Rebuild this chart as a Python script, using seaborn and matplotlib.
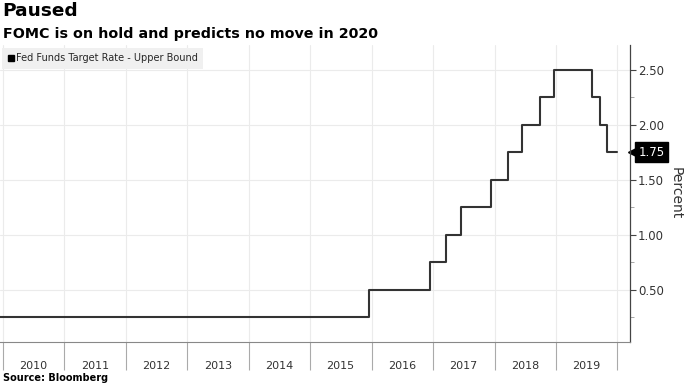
import matplotlib
matplotlib.use('Agg')
import pandas as pd
import matplotlib.pyplot as plt
import matplotlib.dates as mdates
import matplotlib.transforms as mtransforms
import seaborn as sns
from matplotlib.lines import Line2D

# FOMC target rate changes (upper bound), percent
change_dates = ['2008-12-16', '2015-12-17', '2016-12-15', '2017-03-16', '2017-06-15',
                '2017-12-14', '2018-03-22', '2018-06-14', '2018-09-27', '2018-12-20',
                '2019-08-01', '2019-09-19', '2019-10-31', '2019-12-31']
upper_bound = [0.25, 0.50, 0.75, 1.00, 1.25,
               1.50, 1.75, 2.00, 2.25, 2.50,
               2.25, 2.00, 1.75, 1.75]
y_ticks = [0.50, 1.00, 1.50, 2.00, 2.50]
y_minor = [0.25, 0.75, 1.25, 1.75, 2.25]
last_value = 1.75

df = pd.DataFrame({'date': pd.to_datetime(change_dates), 'rate': upper_bound})

sns.set_style('white')
plt.rcParams['font.family'] = ['DejaVu Sans']

fig = plt.figure(figsize=(6.86, 3.85), dpi=100)
ax = fig.add_axes([0.0, 0.112, 0.918, 0.771])

sns.lineplot(data=df, x='date', y='rate', drawstyle='steps-post',
             color='#333333', linewidth=1.5, ax=ax)

ax.set_xlim(pd.Timestamp('2009-12-14'), pd.Timestamp('2020-03-15'))
ax.set_ylim(0.027, 2.727)

# x axis: year separators as long ticks, labels centred in each year
ax.xaxis.set_major_locator(mdates.YearLocator())
ax.xaxis.set_major_formatter(plt.NullFormatter())
ax.xaxis.set_minor_locator(mdates.MonthLocator(bymonth=7))
ax.xaxis.set_minor_formatter(mdates.DateFormatter('%Y'))
ax.tick_params(axis='x', which='major', length=20, width=0.8, color='#aaaaaa', bottom=True)
ax.tick_params(axis='x', which='minor', length=0, pad=14, labelsize=8, labelcolor='#333333')

# y axis on the right
ax.yaxis.tick_right()
ax.yaxis.set_label_position('right')
ax.set_yticks(y_ticks)
ax.set_yticks(y_minor, minor=True)
ax.set_yticklabels([f'{v:.2f}' for v in y_ticks])
ax.tick_params(axis='y', which='major', length=4, width=0.8, color='#444444',
               labelsize=8.5, labelcolor='#333333', pad=2, right=True)
ax.tick_params(axis='y', which='minor', length=3, width=0.6, color='#999999', right=True)
ax.set_ylabel('Percent', rotation=270, labelpad=13, fontsize=10, color='#333333')
ax.set_xlabel('')

ax.grid(axis='x', which='major', color='#ebebeb', linewidth=0.8)
ax.grid(axis='y', which='major', color='#ebebeb', linewidth=0.8)

for side in ['top', 'left']:
    ax.spines[side].set_visible(False)
ax.spines['right'].set_color('#444444')
ax.spines['right'].set_linewidth(0.9)
ax.spines['bottom'].set_color('#888888')
ax.spines['bottom'].set_linewidth(0.8)

handle = Line2D([], [], marker='s', color='black', linestyle='none', markersize=5)
leg = ax.legend(handles=[handle], labels=['Fed Funds Target Rate - Upper Bound'],
                loc='upper left', bbox_to_anchor=(0.003, 0.99), frameon=True,
                facecolor='#f0f0f0', edgecolor='none', fancybox=False, fontsize=7,
                handletextpad=0.1, handlelength=0.8, borderpad=0.55, borderaxespad=0)
leg.get_frame().set_alpha(1)

# last value tag: black box with a small pointer at the axis
ax.annotate(f'{last_value:.2f}', xy=(1, last_value), xycoords=('axes fraction', 'data'),
            xytext=(6.5, 0), textcoords='offset points', color='white', fontsize=8.5,
            va='center', ha='left', annotation_clip=False,
            bbox=dict(boxstyle='square,pad=0.3', fc='black', ec='black'))
tag_tr = mtransforms.blended_transform_factory(ax.transAxes, ax.transData)
ax.plot([1.0], [last_value], marker='<', color='black', markersize=8,
        transform=tag_tr + mtransforms.ScaledTranslation(3 / 72, 0, fig.dpi_scale_trans),
        clip_on=False)

fig.text(0.004, 0.995, 'Paused', fontsize=13.3, weight='bold', va='top', color='black')
fig.text(0.004, 0.93, 'FOMC is on hold and predicts no move in 2020', fontsize=10.3,
         weight='bold', va='top', color='black')
fig.text(0.004, 0.004, 'Source: Bloomberg', fontsize=7, weight='bold', va='bottom',
         color='black')

fig.savefig('out.png', dpi=100)
